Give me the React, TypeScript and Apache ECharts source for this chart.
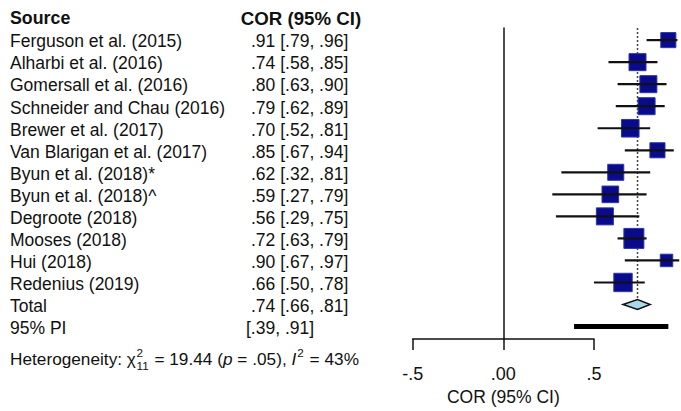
import React, { useEffect, useRef } from 'react';
import * as echarts from 'echarts';

const studies = [
  'Ferguson et al. (2015)',
  'Alharbi et al. (2016)',
  'Gomersall et al. (2016)',
  'Schneider and Chau (2016)',
  'Brewer et al. (2017)',
  'Van Blarigan et al. (2017)',
  'Byun et al. (2018)*',
  'Byun et al. (2018)^',
  'Degroote (2018)',
  'Mooses (2018)',
  'Hui (2018)',
  'Redenius (2019)',
];
const estimates = [0.91, 0.74, 0.8, 0.79, 0.7, 0.85, 0.62, 0.59, 0.56, 0.72, 0.9, 0.66];
const lowerCI = [0.79, 0.58, 0.63, 0.62, 0.52, 0.67, 0.32, 0.27, 0.29, 0.63, 0.67, 0.5];
const upperCI = [0.96, 0.85, 0.9, 0.89, 0.81, 0.94, 0.81, 0.79, 0.75, 0.79, 0.97, 0.78];
const weights = [7.0, 8.9, 8.9, 8.9, 9.5, 7.0, 7.9, 8.5, 8.9, 12.3, 4.8, 10.4];

const totalLabel = 'Total';
const totalEstimate = 0.74;
const totalLower = 0.66;
const totalUpper = 0.81;
const piLabel = '95% PI';
const piLower = 0.39;
const piUpper = 0.91;

const xTicks = [-0.5, 0, 0.5];
const xTickLabels = ['-.5', '.00', '.5'];
const xAxisTitle = 'COR (95% CI)';
const headerSource = 'Source';
const headerValue = 'COR (95% CI)';

const FONT = '"Liberation Sans", Arial, Helvetica, sans-serif';
const TXT = '#111';

const fmt = (v: number) => {
  const s = v.toFixed(2);
  return s.replace(/^0/, '').replace(/^-0/, '-');
};

function measure(text: string, font: string): number {
  const c = document.createElement('canvas').getContext('2d');
  if (!c) return text.length * 8;
  c.font = font;
  return c.measureText(text).width;
}

function heterogeneityGroup() {
  const fs = 17;
  const fsSmall = 11.5;
  const normal = `${fs}px ${FONT}`;
  const italic = `italic ${fs}px ${FONT}`;
  const small = `${fsSmall}px ${FONT}`;
  const children: any[] = [];
  let x = 0;
  const add = (text: string, font: string, style: any = {}) => {
    children.push({
      type: 'text',
      x,
      y: 0,
      style: { text, font, fill: TXT, verticalAlign: 'middle', align: 'left', ...style },
    });
    x += measure(text, font);
  };
  add('Heterogeneity: χ', normal);
  const x0 = x + 0.5;
  children.push({ type: 'text', x: x0, y: -6.5, style: { text: '2', font: small, fill: TXT, verticalAlign: 'middle', align: 'left' } });
  children.push({ type: 'text', x: x0, y: 6.5, style: { text: '11', font: small, fill: TXT, verticalAlign: 'middle', align: 'left' } });
  x = x0 + Math.max(measure('2', small), measure('11', small)) + 1;
  add(' = 19.44 (', normal);
  add('p', italic);
  add(' = .05), ', normal);
  add('I', italic);
  children.push({ type: 'text', x: x + 1, y: -6.5, style: { text: '2', font: small, fill: TXT, verticalAlign: 'middle', align: 'left' } });
  x += measure('2', small) + 2;
  add(' = 43%', normal);
  const targetW = 349;
  return { type: 'group', x: 10, y: 360, scaleX: targetW / x, children };
}

export default function App() {
  const ref = useRef<HTMLDivElement>(null);
  useEffect(() => {
    if (!ref.current) return;
    const chart = echarts.init(ref.current, null, { renderer: 'svg' });
    const maxW = Math.max(...weights);
    const studyData = studies.map((_, i) => [i, estimates[i], lowerCI[i], upperCI[i], weights[i]]);

    const textStyle = (text: string, bold = false, size = 17.5) => ({
      text,
      fontSize: size,
      fontFamily: FONT,
      fontWeight: bold ? 'bold' : 'normal',
      fill: TXT,
      verticalAlign: 'middle',
      align: 'left',
    });

    const option: any = {
      animation: false,
      grid: { left: 412.7, right: 87, top: 28, bottom: 68 },
      xAxis: {
        type: 'value',
        min: -0.5,
        max: 0.5,
        interval: 0.5,
        splitLine: { show: false },
        axisLine: { show: true, onZero: false, lineStyle: { color: TXT, width: 1.5 } },
        axisTick: { show: true, length: 11, lineStyle: { color: TXT, width: 1.5 } },
        axisLabel: {
          margin: 26,
          fontSize: 18,
          fontFamily: FONT,
          color: TXT,
          formatter: (v: number) => {
            const idx = xTicks.findIndex((t) => Math.abs(t - v) < 1e-9);
            return idx >= 0 ? xTickLabels[idx] : '';
          },
        },
        name: xAxisTitle,
        nameLocation: 'middle',
        nameGap: 48,
        nameTextStyle: { fontSize: 17.5, fontFamily: FONT, color: TXT },
      },
      yAxis: {
        type: 'value',
        inverse: true,
        min: -0.55,
        max: 13.57,
        splitLine: { show: false },
        axisTick: { show: false },
        axisLabel: { show: false },
        axisLine: { show: true, onZero: true, lineStyle: { color: TXT, width: 1.5 } },
      },
      graphic: [
        { type: 'text', x: 10, y: 18, style: textStyle(headerSource, true, 17.8) },
        { type: 'text', x: 240.7, y: 18.5, style: textStyle(headerValue, true, 18.7) },
        heterogeneityGroup(),
      ],
      series: [
        {
          type: 'custom',
          name: 'Total',
          data: [[12, totalEstimate, totalLower, totalUpper]],
          encode: { x: [1, 2, 3], y: 0 },
          z: 2,
          renderItem: (params: any, api: any) => {
            const row = api.value(0);
            const [xe, y] = api.coord([api.value(1), row]);
            const xl = api.coord([api.value(2), row])[0];
            const xh = api.coord([api.value(3), row])[0];
            const top = params.coordSys.y;
            const h = 5;
            return {
              type: 'group',
              children: [
                {
                  type: 'line',
                  shape: { x1: xe, y1: top, x2: xe, y2: y - h },
                  style: { stroke: '#444', lineWidth: 1.5, lineDash: [2, 2] },
                },
                {
                  type: 'polygon',
                  shape: { points: [[xl, y], [xe, y - h], [xh, y], [xe, y + h]] },
                  style: { fill: '#aad8e8', stroke: TXT, lineWidth: 1.5 },
                },
                { type: 'text', x: 10, y: y + 1.3, style: textStyle(totalLabel) },
                {
                  type: 'text',
                  x: 251,
                  y: y + 1.3,
                  style: textStyle(`${fmt(api.value(1))} [${fmt(api.value(2))}, ${fmt(api.value(3))}]`),
                },
              ],
            };
          },
        },
        {
          type: 'custom',
          name: 'Studies',
          data: studyData,
          encode: { x: [1, 2, 3], y: 0 },
          z: 3,
          renderItem: (params: any, api: any) => {
            const i = params.dataIndex;
            const row = api.value(0);
            const [xe, y] = api.coord([api.value(1), row]);
            const xl = api.coord([api.value(2), row])[0];
            const xh = api.coord([api.value(3), row])[0];
            const s = 20 * Math.sqrt(api.value(4) / maxW);
            return {
              type: 'group',
              children: [
                {
                  type: 'rect',
                  shape: { x: xe - s / 2, y: y - s / 2, width: s, height: s },
                  style: { fill: '#0a0a8c', stroke: '#2a36a8', lineWidth: 1 },
                },
                {
                  type: 'line',
                  shape: { x1: xl, y1: y, x2: xh, y2: y },
                  style: { stroke: TXT, lineWidth: 2.2 },
                },
                { type: 'text', x: 10, y: y + 1.3, style: textStyle(studies[i]) },
                {
                  type: 'text',
                  x: 251,
                  y: y + 1.3,
                  style: textStyle(`${fmt(api.value(1))} [${fmt(api.value(2))}, ${fmt(api.value(3))}]`),
                },
              ],
            };
          },
        },
        {
          type: 'custom',
          name: '95% PI',
          data: [[13, piLower, piUpper]],
          encode: { x: [1, 2], y: 0 },
          z: 3,
          renderItem: (params: any, api: any) => {
            const row = api.value(0);
            const [xl, y] = api.coord([api.value(1), row]);
            const xh = api.coord([api.value(2), row])[0];
            return {
              type: 'group',
              children: [
                {
                  type: 'line',
                  shape: { x1: xl, y1: y, x2: xh, y2: y },
                  style: { stroke: '#000', lineWidth: 5 },
                },
                { type: 'text', x: 10, y: y + 1.3, style: textStyle(piLabel) },
                {
                  type: 'text',
                  x: 246,
                  y: y + 1.3,
                  style: textStyle(`[${fmt(api.value(1))}, ${fmt(api.value(2))}]`),
                },
              ],
            };
          },
        },
      ],
    };
    chart.setOption(option);
    return () => chart.dispose();
  }, []);
  return (
    <div
      ref={ref}
      style={{ position: 'absolute', left: 0, top: 0, width: 681, height: 411, background: '#fff' }}
    />
  );
}
